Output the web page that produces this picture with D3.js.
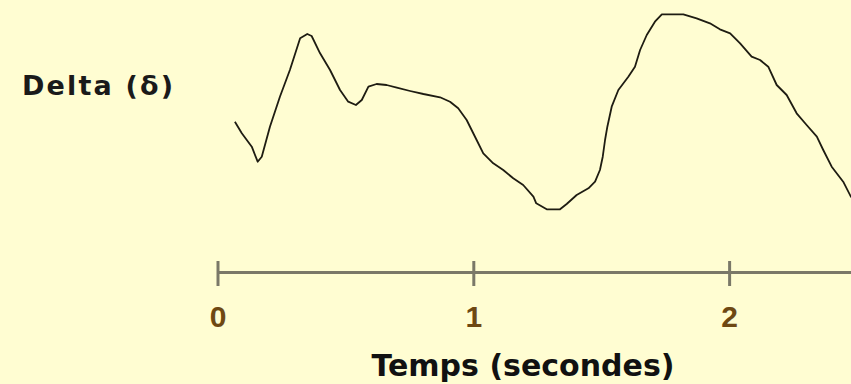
<!DOCTYPE html>
<html>
<head>
<meta charset="utf-8">
<script src="https://cdn.jsdelivr.net/npm/d3@7"></script>
<style>
  html, body { margin: 0; padding: 0; background: #fffdd2; }
  svg { display: block; }
</style>
</head>
<body>
<svg id="chart" width="851" height="384"></svg>
<script>
// Delta-wave trace: time (s) and relative amplitude
const times = [0.068, 0.095, 0.134, 0.157, 0.173, 0.205, 0.244, 0.283, 0.323, 0.351,
  0.368, 0.401, 0.440, 0.479, 0.511, 0.541, 0.564, 0.590, 0.622, 0.661,
  0.701, 0.753, 0.805, 0.870, 0.909, 0.941, 0.974, 1.013, 1.039, 1.078,
  1.117, 1.156, 1.195, 1.235, 1.246, 1.287, 1.339, 1.365, 1.404, 1.450,
  1.476, 1.495, 1.506, 1.515, 1.524, 1.541, 1.567, 1.606, 1.632, 1.652,
  1.678, 1.710, 1.737, 1.821, 1.873, 1.925, 1.964, 2.004, 2.043, 2.088,
  2.121, 2.153, 2.186, 2.225, 2.264, 2.303, 2.343, 2.368, 2.401, 2.446,
  2.476, 2.500];
const amplitudes = [-6.7, -18.3, -31.7, -46.7, -41.7, -11.7, 18.3, 45, 76.7, 81,
  79, 61.7, 45, 25, 13.3, 10, 15, 28.3, 31, 30,
  27.3, 24, 21, 17.7, 13.3, 6.7, -5, -25, -38.3, -48.3,
  -55, -63.3, -70, -81.7, -88.3, -94.3, -94.3, -89, -80, -73.3,
  -66.7, -55, -41.7, -25, -11.7, 8.3, 25, 38.3, 48.3, 65,
  80, 93.3, 100.7, 100.7, 96.7, 91.7, 85.7, 81.7, 71.7, 58.3,
  55, 48.3, 30, 20, 1.7, -10, -21.7, -35, -51.7, -66.7,
  -81.7, -88];
const tickValues = [0, 1, 2];
const tickLabels = ["0", "1", "2"];
const waveLabel = "Delta (δ)";
const axisTitle = "Temps (secondes)";

const svg = d3.select("#chart");

const x = d3.scaleLinear().domain([0, 2.6]).range([217.5, 882.6]);
const y = d3.scaleLinear().domain([-100, 100]).range([215, 15]);

// time axis
const axis = d3.axisBottom(x)
  .tickValues(tickValues)
  .tickFormat((d, i) => tickLabels[i])
  .tickSizeOuter(0)
  .tickSizeInner(13)
  .tickPadding(0);

const gAxis = svg.append("g")
  .attr("transform", "translate(0,272)")
  .call(axis);

gAxis.select(".domain")
  .attr("stroke", "#7a7868")
  .attr("stroke-width", 3);
gAxis.selectAll(".tick line")
  .attr("y1", -11)
  .attr("y2", 14)
  .attr("stroke", "#7a7868")
  .attr("stroke-width", 3);
gAxis.selectAll(".tick text")
  .attr("y", 55)
  .attr("dy", null)
  .attr("fill", "#6e4812")
  .attr("font-family", "'Liberation Sans', Arial, sans-serif")
  .attr("font-weight", "bold")
  .attr("font-size", 30);

// axis title
svg.append("text")
  .attr("x", 523)
  .attr("y", 376)
  .attr("text-anchor", "middle")
  .attr("font-family", "DejaVu Sans, Verdana, sans-serif")
  .attr("font-weight", "bold")
  .attr("font-size", 30)
  .attr("fill", "#111")
  .text(axisTitle);

// wave name
svg.append("text")
  .attr("x", 22)
  .attr("y", 95)
  .attr("font-family", "DejaVu Sans, Verdana, sans-serif")
  .attr("font-weight", "bold")
  .attr("font-size", 27)
  .attr("textLength", 151)
  .attr("lengthAdjust", "spacing")
  .attr("fill", "#1a1a1a")
  .text(waveLabel);

// trace
const line = d3.line()
  .x((d, i) => x(times[i]))
  .y(d => y(d))
  .curve(d3.curveLinear);

svg.append("path")
  .datum(amplitudes)
  .attr("d", line)
  .attr("fill", "none")
  .attr("stroke", "#1e1c12")
  .attr("stroke-width", 1.8)
  .attr("stroke-linejoin", "round");
</script>
</body>
</html>
